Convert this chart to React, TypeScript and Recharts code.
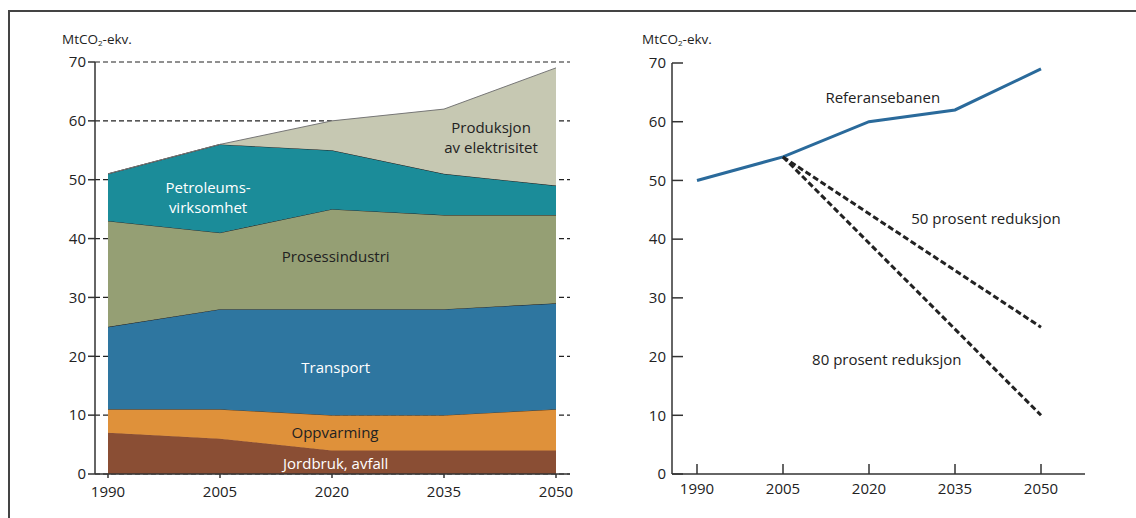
import { AreaChart, Area, LineChart, Line, XAxis, YAxis, CartesianGrid, ReferenceDot } from 'recharts';

const years = [1990, 2005, 2020, 2035, 2050];
const jordbruk = [7, 6, 4, 4, 4];
const oppvarming = [4, 5, 6, 6, 7];
const transport = [14, 17, 18, 18, 18];
const prosess = [18, 13, 17, 16, 15];
const petroleum = [8, 15, 10, 7, 5];
const elektrisitet = [0, 0, 5, 11, 20];

const referanse = [50, 54, 60, 62, 69];
const reduksjon50 = [null, 54, null, null, 25];
const reduksjon80 = [null, 54, null, null, 10];

const yTicks = [0, 10, 20, 30, 40, 50, 60, 70];

const leftLabels = [
    { x: 2003.4, y: 46.9, lines: ['Petroleums-', 'virksomhet'], color: '#fff' },
    { x: 2020.5, y: 36.9, lines: ['Prosessindustri'], color: '#222' },
    { x: 2020.5, y: 18.0, lines: ['Transport'], color: '#fff' },
    { x: 2020.4, y: 7.0, lines: ['Oppvarming'], color: '#222' },
    { x: 2020.5, y: 1.7, lines: ['Jordbruk, avfall'], color: '#fff' },
    { x: 2041.3, y: 57.2, lines: ['Produksjon', 'av elektrisitet'], color: '#222' },
];

const rightLabels = [
    { x: 2022.4, y: 64.1, lines: ['Referansebanen'], color: '#222' },
    { x: 2040.4, y: 43.5, lines: ['50 prosent reduksjon'], color: '#222' },
    { x: 2023.1, y: 19.4, lines: ['80 prosent reduksjon'], color: '#222' },
];

const stackData = years.map((year, i) => ({
    year,
    jordbruk: jordbruk[i],
    oppvarming: oppvarming[i],
    transport: transport[i],
    prosess: prosess[i],
    petroleum: petroleum[i],
    elektrisitet: elektrisitet[i],
}));

const lineData = years.map((year, i) => ({
    year,
    referanse: referanse[i],
    r50: reduksjon50[i],
    r80: reduksjon80[i],
}));

const FONT = "'Open Sans', sans-serif";
const tickStyle = { fill: '#222', fontSize: 15, fontFamily: FONT };

const textLabel = (lines: string[], color: string, weight: number) => (props: any) => {
    const vb = props.viewBox || {};
    const cx = vb.x + (vb.width || 0) / 2;
    const cy = vb.y + (vb.height || 0) / 2;
    const lh = 20;
    const start = cy - ((lines.length - 1) * lh) / 2;
    return (
        <text textAnchor="middle" fill={color} fontSize={15} fontWeight={weight} fontFamily={FONT}>
            {lines.map((l, i) => (
                <tspan key={i} x={cx} y={start + i * lh} dy="0.35em">{l}</tspan>
            ))}
        </text>
    );
};

const InYTick = (props: any) => {
    const { x, y, payload } = props;
    const ax = x + 6;
    return (
        <g>
            <line x1={ax} x2={ax + 11} y1={y} y2={y} stroke="#333" strokeWidth={1.5} />
            <text x={x} y={y} dy="0.35em" textAnchor="end" {...tickStyle}>{payload.value}</text>
        </g>
    );
};

const InXTick = (props: any) => {
    const { x, y, payload } = props;
    const ay = y - 9;
    return (
        <g>
            <line x1={x} x2={x} y1={ay} y2={ay - 10} stroke="#333" strokeWidth={1.5} />
            <text x={x} y={y} dy="0.71em" textAnchor="middle" {...tickStyle}>{payload.value}</text>
        </g>
    );
};

const Unit = ({ left }: { left: number }) => (
    <div style={{ position: 'absolute', left, top: 30, fontFamily: FONT, fontSize: 13.5, color: '#222', whiteSpace: 'nowrap' }}>
        MtCO<sub style={{ fontSize: 8, verticalAlign: 'baseline', position: 'relative', top: 2 }}>2</sub>-ekv.
    </div>
);

export default function App() {
    return (
        <div style={{ position: 'absolute', left: 0, top: 0, width: 1136, height: 518, background: '#fff', overflow: 'hidden' }}>
            <div style={{ position: 'absolute', left: 8, top: 10, width: 1128, height: 508, borderTop: '2px solid #444', borderLeft: '2px solid #444' }} />
            <Unit left={62} />
            <Unit left={642} />

            <div style={{ position: 'absolute', left: 0, top: 0 }}>
                <AreaChart width={600} height={518} data={stackData} margin={{ top: 62, right: 30, bottom: 14, left: 55 }}>
                    <CartesianGrid vertical={false} stroke="#222" strokeDasharray="5 3" strokeWidth={1.2} />
                    <XAxis
                        dataKey="year"
                        type="number"
                        domain={[1990, 2050]}
                        ticks={years}
                        padding={{ left: 13, right: 14 }}
                        tickSize={4}
                        tickMargin={8}
                        axisLine={{ stroke: '#333', strokeWidth: 1.5 }}
                        tickLine={{ stroke: '#333', strokeWidth: 1.5 }}
                        tick={tickStyle}
                    />
                    <YAxis
                        width={40}
                        domain={[0, 70]}
                        ticks={yTicks}
                        tickSize={7}
                        tickMargin={2}
                        axisLine={{ stroke: '#333', strokeWidth: 1.5 }}
                        tickLine={{ stroke: '#333', strokeWidth: 1.5 }}
                        tick={tickStyle}
                    />
                    <Area type="linear" dataKey="jordbruk" stackId="1" fill="#8A4E34" stroke="#8A4E34" fillOpacity={1} isAnimationActive={false} />
                    <Area type="linear" dataKey="oppvarming" stackId="1" fill="#DF913A" stroke="#5a3a1a" strokeWidth={1} fillOpacity={1} isAnimationActive={false} />
                    <Area type="linear" dataKey="transport" stackId="1" fill="#2E76A0" stroke="#222" strokeWidth={1} fillOpacity={1} isAnimationActive={false} />
                    <Area type="linear" dataKey="prosess" stackId="1" fill="#959F74" stroke="#222" strokeWidth={1} fillOpacity={1} isAnimationActive={false} />
                    <Area type="linear" dataKey="petroleum" stackId="1" fill="#1B8C99" stroke="#222" strokeWidth={1} fillOpacity={1} isAnimationActive={false} />
                    <Area type="linear" dataKey="elektrisitet" stackId="1" fill="#C6C8B2" stroke="#777" strokeWidth={1} fillOpacity={1} isAnimationActive={false} />
                    {leftLabels.map((l, i) => (
                        <ReferenceDot key={i} x={l.x} y={l.y} r={0} stroke="none" fill="none" label={{ content: textLabel(l.lines, l.color, 500) }} />
                    ))}
                </AreaChart>
            </div>

            <div style={{ position: 'absolute', left: 600, top: 0 }}>
                <LineChart width={536} height={518} data={lineData} margin={{ top: 63, right: 51, bottom: 14, left: 32 }}>
                    <XAxis
                        dataKey="year"
                        type="number"
                        domain={[1990, 2050]}
                        ticks={years}
                        padding={{ left: 25, right: 44 }}
                        tickSize={0}
                        tickMargin={9}
                        tickLine={false}
                        axisLine={{ stroke: '#333', strokeWidth: 1.5 }}
                        tick={<InXTick />}
                    />
                    <YAxis
                        width={40}
                        domain={[0, 70]}
                        ticks={yTicks}
                        tickSize={0}
                        tickMargin={6}
                        tickLine={false}
                        axisLine={{ stroke: '#333', strokeWidth: 1.5 }}
                        tick={<InYTick />}
                    />
                    <Line type="linear" dataKey="referanse" stroke="#2A6A9B" strokeWidth={3} dot={false} isAnimationActive={false} />
                    <Line type="linear" dataKey="r50" stroke="#222" strokeWidth={3} strokeDasharray="6 3" dot={false} connectNulls isAnimationActive={false} />
                    <Line type="linear" dataKey="r80" stroke="#222" strokeWidth={3} strokeDasharray="6 3" dot={false} connectNulls isAnimationActive={false} />
                    {rightLabels.map((l, i) => (
                        <ReferenceDot key={i} x={l.x} y={l.y} r={0} stroke="none" fill="none" label={{ content: textLabel(l.lines, l.color, 400) }} />
                    ))}
                </LineChart>
            </div>
        </div>
    );
}
